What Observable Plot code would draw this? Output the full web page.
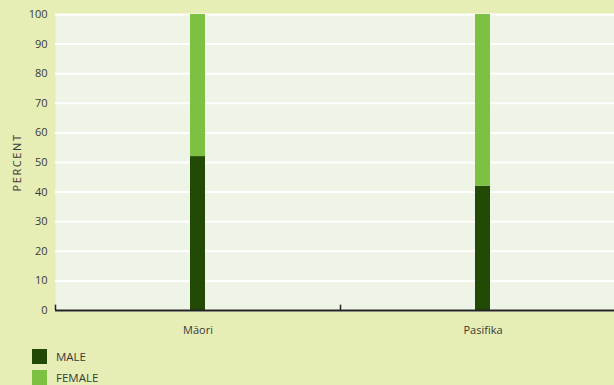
<!DOCTYPE html>
<html>
<head>
<meta charset="utf-8">
<script src="https://cdn.jsdelivr.net/npm/d3@7"></script>
<script src="https://cdn.jsdelivr.net/npm/@observablehq/plot@0.6"></script>
<style>
  html, body { margin: 0; padding: 0; background: #e6edb5; }
  body { width: 614px; height: 385px; overflow: hidden; font-family: "Open Sans", sans-serif; }
  #chart svg { display: block; }
  #chart [aria-label="y-axis label"] text { letter-spacing: 1.6px; }
  .legend { position: relative; margin-top: 6px; }
  .legend .item { display: flex; align-items: center; height: 21px; margin-left: 32px; font-size: 11.5px; line-height: 13px; color: #3a3a3a; }
  .legend .sw { width: 15px; height: 15px; margin-right: 9px; flex: none; }
</style>
</head>
<body>
<div id="chart"></div>
<div class="legend" id="legend"></div>
<script>
// Share of each group by sex, in percent
const groups = ["Māori", "Pasifika"];
const sexes = ["MALE", "FEMALE"];
const male = [52, 42];
const female = [48, 58];
const colors = ["#224a04", "#7dc142"];
const yTicks = [0, 10, 20, 30, 40, 50, 60, 70, 80, 90, 100];

const rows = groups.flatMap((g, i) => [
  {group: g, sex: "MALE", value: male[i]},
  {group: g, sex: "FEMALE", value: female[i]}
]);

const chart = Plot.plot({
  width: 614,
  height: 340,
  marginTop: 14,
  marginBottom: 30,
  marginLeft: 55,
  marginRight: 0,
  style: {fontFamily: "'Open Sans', sans-serif", fontSize: "11px", color: "#3a3a3a", background: "transparent"},
  x: {type: "band", domain: groups, range: [55, 625], padding: 0, label: null},
  y: {domain: [0, 100], label: "PERCENT"},
  color: {domain: sexes, range: colors},
  marks: [
    Plot.frame({fill: "#eef4e6", stroke: null}),
    Plot.gridY(yTicks, {stroke: "#ffffff", strokeOpacity: 1, strokeWidth: 2}),
    Plot.axisY(yTicks, {tickSize: 0, tickPadding: 8, label: "PERCENT", labelAnchor: "center", labelArrow: "none", labelOffset: 42, fontSize: 11}),
    Plot.axisX({tickSize: 0, tickPadding: 16, fontSize: 11}),
    Plot.barY(rows, Plot.stackY({x: "group", y: "value", fill: "sex", insetLeft: 135, insetRight: 135, order: sexes})),
    Plot.ruleX(groups, {x: d => d, y1: 0, y2: 1.8, dx: -142.5, stroke: "#222", strokeWidth: 1.5}),
    Plot.ruleY([0], {stroke: "#222", strokeWidth: 2})
  ]
});
document.getElementById("chart").appendChild(chart);

const legend = document.getElementById("legend");
sexes.forEach((s, i) => {
  const item = document.createElement("div");
  item.className = "item";
  item.innerHTML = `<span class="sw" style="background:${colors[i]}"></span><span>${s}</span>`;
  legend.appendChild(item);
});
</script>
</body>
</html>
